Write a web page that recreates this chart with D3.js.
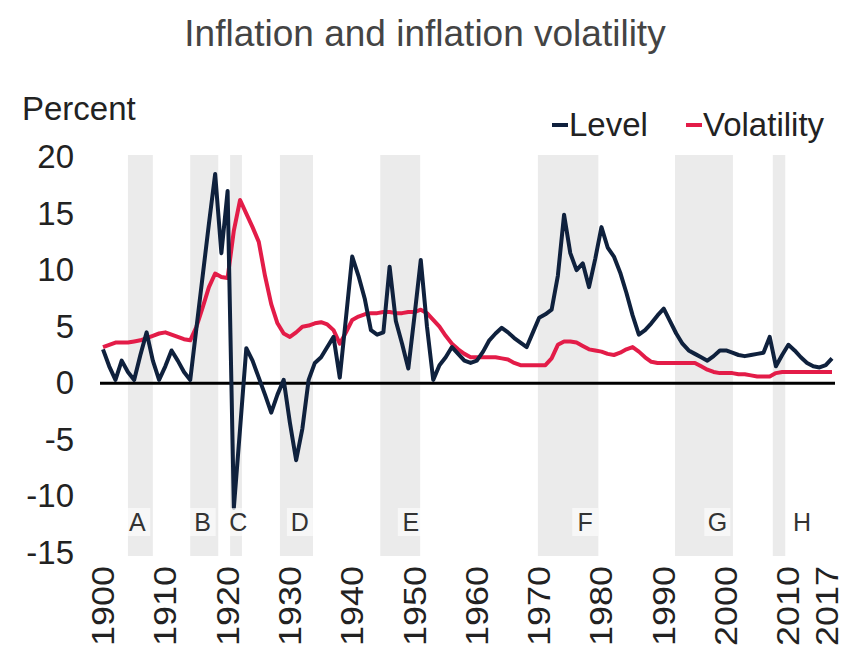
<!DOCTYPE html>
<html>
<head>
<meta charset="utf-8">
<script src="https://cdnjs.cloudflare.com/ajax/libs/d3/7.8.5/d3.min.js"></script>
<style>
  body { margin: 0; background: #fff; }
  text { font-family: "Liberation Sans", Arial, sans-serif; }
</style>
</head>
<body>
<script>
// yearly values, 1900..2017
var years = d3.range(1900, 2018);

var level = [
  3.0, 1.5, 0.3, 2.0, 1.0, 0.3, 2.5, 4.5, 2.0, 0.3,
  1.5, 2.9, 2.0, 1.0, 0.3, 4.9, 9.5, 14.1, 18.5, 11.5,
  17.0, -11.0, -4.0, 3.1, 2.0, 0.5, -1.0, -2.6, -1.0, 0.3,
  -3.5, -6.8, -4.0, 0.3, 1.8, 2.3, 3.2, 4.1, 0.5, 5.8,
  11.2, 9.5, 7.5, 4.7, 4.3, 4.5, 10.3, 5.5, 3.5, 1.3,
  6.0, 10.9, 5.0, 0.3, 1.6, 2.3, 3.2, 2.6, 2.0, 1.8,
  2.0, 2.8, 3.8, 4.4, 4.9, 4.5, 4.0, 3.6, 3.2, 4.5,
  5.8, 6.1, 6.5, 9.5, 14.9, 11.5, 10.0, 10.6, 8.5, 11.0,
  13.8, 12.0, 11.2, 9.8, 8.0, 6.0, 4.3, 4.7, 5.3, 6.0,
  6.6, 5.5, 4.4, 3.5, 2.9, 2.6, 2.3, 2.0, 2.4, 2.9,
  2.9, 2.7, 2.5, 2.4, 2.5, 2.6, 2.7, 4.1, 1.5, 2.5,
  3.4, 2.9, 2.3, 1.8, 1.5, 1.4, 1.6, 2.2
];

var volatility = [
  3.2, 3.4, 3.6, 3.6, 3.6, 3.7, 3.8, 4.0, 4.2, 4.4,
  4.5, 4.3, 4.1, 3.9, 3.8, 5.0, 6.7, 8.5, 9.7, 9.4,
  9.3, 13.5, 16.2, 15.0, 13.8, 12.5, 9.5, 7.0, 5.3, 4.4,
  4.1, 4.5, 5.0, 5.1, 5.3, 5.4, 5.2, 4.7, 3.5, 4.5,
  5.6, 5.9, 6.1, 6.2, 6.2, 6.3, 6.3, 6.2, 6.2, 6.3,
  6.3, 6.5, 6.2, 5.6, 5.0, 4.2, 3.5, 3.0, 2.6, 2.3,
  2.3, 2.3, 2.3, 2.3, 2.2, 2.1, 1.8, 1.6, 1.6, 1.6,
  1.6, 1.6, 2.2, 3.4, 3.7, 3.7, 3.6, 3.3, 3.0, 2.9,
  2.8, 2.6, 2.5, 2.7, 3.0, 3.2, 2.8, 2.3, 1.9, 1.8,
  1.8, 1.8, 1.8, 1.8, 1.8, 1.8, 1.5, 1.2, 1.0, 0.9,
  0.9, 0.9, 0.8, 0.8, 0.7, 0.6, 0.6, 0.6, 0.9, 1.0,
  1.0, 1.0, 1.0, 1.0, 1.0, 1.0, 1.0, 1.0
];

// shaded periods and their letters
var bandNames  = ["A", "B", "C", "D", "E", "F", "G", "H"];
var bandStart  = [1904, 1914, 1920.4, 1928.4, 1944.5, 1969.8, 1991.8, 2007.5];
var bandEnd    = [1908, 1918.5, 1922.3, 1933.7, 1950.9, 1979.5, 2001.1, 2009.5];
var bandLabelX = [1905.5, 1916, 1921.7, 1931.6, 1949.4, 1977.4, 1998.6, 2012.2];

var yTicks = [20, 15, 10, 5, 0, -5, -10, -15];
var xTicks = [1900, 1910, 1920, 1930, 1940, 1950, 1960, 1970, 1980, 1990, 2000, 2010, 2017];

var seriesNames  = ["Level", "Volatility"];
var seriesColors = ["#0f213d", "#e31c48"];

var width = 843, height = 665;

var svg = d3.select("body").append("svg")
    .attr("width", width)
    .attr("height", height);

var x = d3.scaleLinear().domain([1900, 2017]).range([103, 832]);
var y = d3.scaleLinear().domain([-15, 20]).range([553, 157]);

// title
svg.append("text")
    .attr("x", 425).attr("y", 46)
    .attr("text-anchor", "middle")
    .style("font-size", "37px").style("fill", "#444")
    .text("Inflation and inflation volatility");

svg.append("text")
    .attr("x", 22).attr("y", 120)
    .style("font-size", "33px").style("fill", "#222")
    .text("Percent");

// grey bands
var bands = svg.append("g").attr("class", "bands");
bands.selectAll("rect").data(bandNames)
    .enter().append("rect")
    .attr("x", function(d, i){ return x(bandStart[i]); })
    .attr("width", function(d, i){ return x(bandEnd[i]) - x(bandStart[i]); })
    .attr("y", y(20) - 2)
    .attr("height", y(-15) - y(20) + 5)
    .style("fill", "#ebebeb");

// y axis labels only, no line; plain hyphen for negatives like the original
var yAxis = svg.append("g")
    .attr("transform", "translate(74,0)")
    .call(d3.axisLeft(y).tickValues(yTicks).tickSize(0).tickPadding(0)
      .tickFormat(function(d){ return String(d); }));
yAxis.select(".domain").remove();
yAxis.selectAll("text")
    .style("font-size", "33px").style("fill", "#222")
    .style("font-family", "'Liberation Sans', Arial, sans-serif");

// x axis labels, rotated and a little narrow
var xAxis = svg.append("g")
    .attr("transform", "translate(0,566)")
    .call(d3.axisBottom(x).tickValues(xTicks).tickSize(0)
      .tickFormat(function(d){ return String(d); }));
xAxis.select(".domain").remove();
xAxis.selectAll(".tick").attr("transform", function(d){
  var px = d == 2017 ? x(d) - 5 : x(d);
  return "translate(" + px + ",0)";
});
xAxis.selectAll("text")
    .attr("transform", "rotate(-90) scale(1,0.85)")
    .attr("x", 0).attr("y", 0)
    .attr("dy", "0.36em")
    .attr("text-anchor", "end")
    .style("font-size", "36px").style("fill", "#222")
    .style("font-family", "'Liberation Sans', Arial, sans-serif");

// zero line
svg.append("line")
    .attr("x1", 100).attr("x2", 835)
    .attr("y1", y(0)).attr("y2", y(0))
    .style("stroke", "#000").style("stroke-width", 3);

// lines
var line = d3.line()
    .x(function(d, i){ return x(years[i]); })
    .y(function(d){ return y(d); });

svg.append("path").datum(volatility)
    .attr("d", line)
    .style("fill", "none").style("stroke", seriesColors[1])
    .style("stroke-width", 4).style("stroke-linejoin", "round");

svg.append("path").datum(level)
    .attr("d", line)
    .style("fill", "none").style("stroke", seriesColors[0])
    .style("stroke-width", 4).style("stroke-linejoin", "round");

// band letters with faint white boxes
var labels = svg.append("g").attr("class", "band-labels");
labels.selectAll("rect").data(bandNames)
    .enter().append("rect")
    .attr("x", function(d, i){ return x(bandLabelX[i]) - 13; })
    .attr("y", 508).attr("width", 26).attr("height", 28)
    .style("fill", "#fff").style("opacity", 0.6);
labels.selectAll("text").data(bandNames)
    .enter().append("text")
    .attr("x", function(d, i){ return x(bandLabelX[i]); })
    .attr("y", 531)
    .attr("text-anchor", "middle")
    .style("font-size", "25px").style("fill", "#333")
    .text(function(d){ return d; });

// legend
var legX = [552, 686];
var legend = svg.append("g").attr("class", "legend");
legend.selectAll("line").data(seriesNames)
    .enter().append("line")
    .attr("x1", function(d, i){ return legX[i]; })
    .attr("x2", function(d, i){ return legX[i] + 16; })
    .attr("y1", 125).attr("y2", 125)
    .style("stroke", function(d, i){ return seriesColors[i]; })
    .style("stroke-width", 4);
legend.selectAll("text").data(seriesNames)
    .enter().append("text")
    .attr("x", function(d, i){ return legX[i] + 17; })
    .attr("y", 136)
    .style("font-size", "33px").style("fill", "#222")
    .text(function(d){ return d; });
</script>
</body>
</html>
